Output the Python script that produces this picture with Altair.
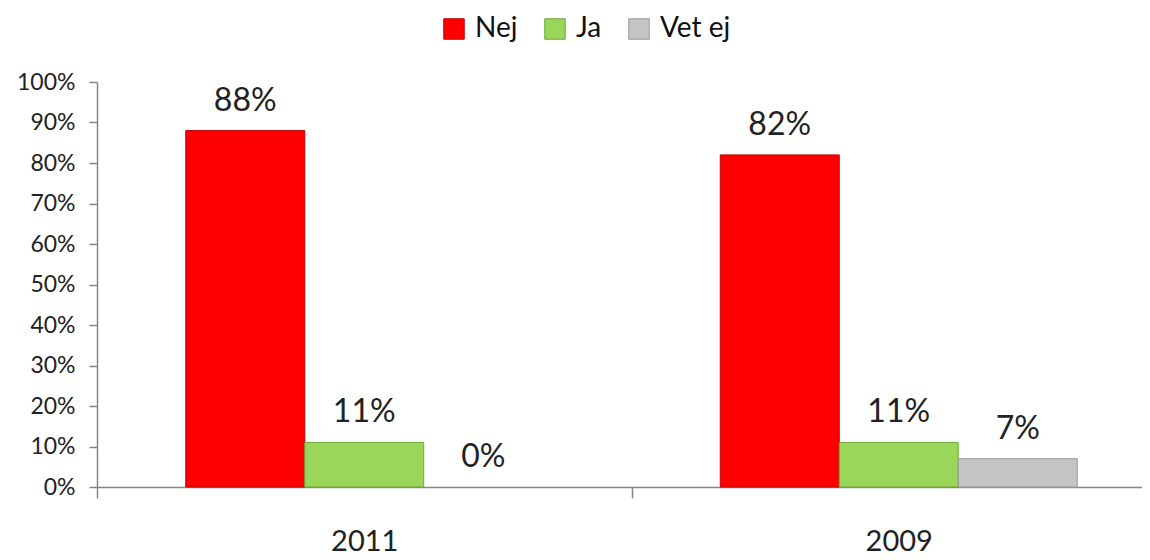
import altair as alt
import pandas as pd

years = ["2011", "2009"]
series = ["Nej", "Ja", "Vet ej"]
values_2011 = [88, 11, 0]
values_2009 = [82, 11, 7]
colors = ["#FF0000", "#99D65A", "#C4C4C4"]
strokes = ["#C00000", "#6FA83A", "#9A9A9A"]

rows = []
for y, vals in zip(years, [values_2011, values_2009]):
    for s, v in zip(series, vals):
        rows.append({"year": y, "series": s, "value": v / 100.0, "label": f"{v}%"})
df = pd.DataFrame(rows)

FONT = "Lato"

x = alt.X(
    "year:N",
    sort=years,
    title=None,
    scale=alt.Scale(range=[0, 1069], paddingInner=0, paddingOuter=0),
    axis=alt.Axis(
        tickBand="extent",
        labelAngle=0,
        labelFontSize=29,
        labelFont=FONT,
        labelColor="#222222",
        labelPadding=29,
        tickSize=11,
        tickColor="#868686",
        domainColor="#868686",
        domainWidth=1.5,
        tickWidth=1.5,
    ),
)
xo = alt.XOffset("series:N", sort=series, scale=alt.Scale(paddingOuter=0.746, paddingInner=0))
y = alt.Y(
    "value:Q",
    title=None,
    scale=alt.Scale(domain=[0, 1]),
    axis=alt.Axis(
        format="%",
        values=[i / 10 for i in range(11)],
        labelFontSize=23,
        labelFont=FONT,
        labelColor="#222222",
        labelPadding=14,
        tickSize=8,
        tickColor="#868686",
        domainColor="#868686",
        domainWidth=1.5,
        tickWidth=1.5,
        grid=False,
    ),
)

bars = alt.Chart(df).mark_bar(strokeWidth=1).encode(
    x=x,
    xOffset=xo,
    y=y,
    color=alt.Color(
        "series:N",
        sort=series,
        scale=alt.Scale(domain=series, range=colors),
        legend=alt.Legend(
            title=None,
            orient="none",
            direction="horizontal",
            legendX=343,
            legendY=-67,
            symbolType="square",
            symbolSize=420,
            symbolStrokeWidth=1,
            labelFont=FONT,
            labelFontSize=28,
            labelColor="#111111",
            labelOffset=7,
            columnPadding=23,
        ),
    ),
    stroke=alt.Stroke("series:N", sort=series, scale=alt.Scale(domain=series, range=strokes), legend=None),
    strokeOpacity=alt.condition("datum.value > 0", alt.value(1), alt.value(0)),
)

labels = alt.Chart(df).mark_text(
    font=FONT, fontSize=32, baseline="alphabetic", dy=-20, color="#222222"
).encode(
    x=x,
    xOffset=xo,
    y=y,
    text="label:N",
)

chart = (
    alt.layer(bars, labels)
    .properties(
        width=1045,
        height=405,
        autosize=alt.AutoSizeParams(type="none"),
        padding={"left": 89, "top": 74, "right": 0, "bottom": 70},
    )
    .configure_view(stroke=None)
)

chart.save("out.html", embed_options={"renderer": "svg", "actions": False})
